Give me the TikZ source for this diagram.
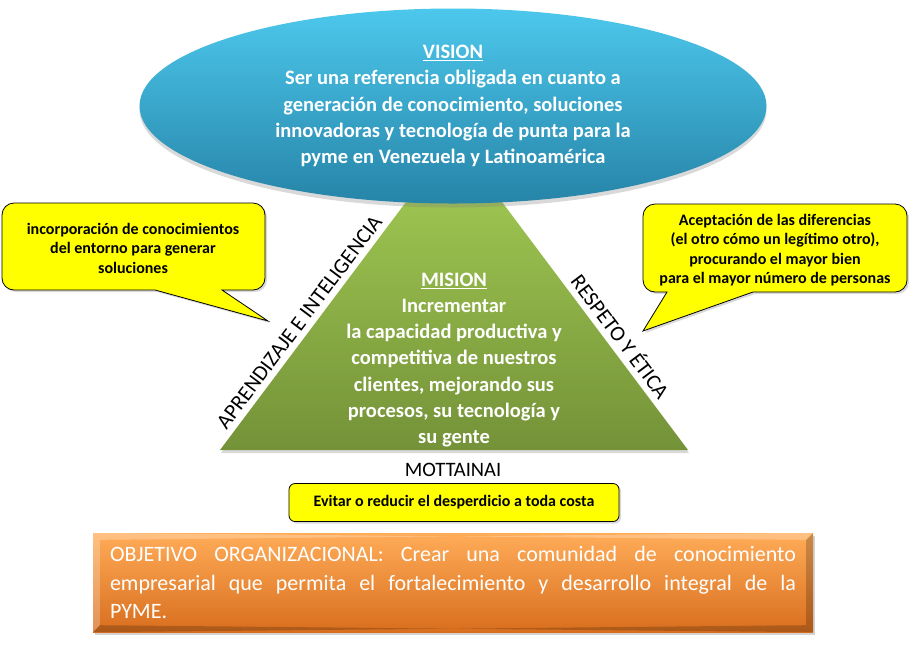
\documentclass[tikz,border=0pt]{standalone}
\usepackage{fontspec}
\setmainfont{Carlito}
\usetikzlibrary{positioning,shapes.geometric,shadows,calc}

\definecolor{visionTop}{RGB}{76,200,236}
\definecolor{visionMid}{RGB}{58,176,214}
\definecolor{visionBot}{RGB}{38,132,168}
\definecolor{misionTop}{RGB}{166,207,86}
\definecolor{misionBot}{RGB}{116,146,56}
\definecolor{objTop}{RGB}{255,172,88}
\definecolor{objMid}{RGB}{248,142,46}
\definecolor{objBot}{RGB}{216,110,30}
\definecolor{notaYellow}{RGB}{255,255,0}

\begin{document}
\begin{tikzpicture}[x=1pt, y=-1pt,
    bubble/.style={fill=notaYellow, draw=black, line width=0.8pt,
      drop shadow={opacity=0.3, shadow xshift=2pt, shadow yshift=-2pt}},
    notetext/.style={font=\bfseries\fontsize{16}{19.5}\selectfont, align=center},
    sidelabel/.style={font=\fontsize{21.5}{24}\selectfont, anchor=south, inner sep=6pt},
    whitetext/.style={text=white, font=\bfseries\fontsize{20.5}{26.2}\selectfont, align=center}]
  \useasboundingbox (0,0) rectangle (909,649);

  % piramide
  \coordinate (apex) at (454,138);
  \coordinate (baseL) at (220,450);
  \coordinate (baseR) at (688,450);
  \shade[top color=misionTop, bottom color=misionBot,
    drop shadow={opacity=0.3, shadow xshift=1pt, shadow yshift=-3pt}]
    (apex) -- (baseR) -- (baseL) -- cycle;
  \path (baseL) -- (apex) node[sidelabel, pos=0.384, rotate=53.1] (aprendizaje) {APRENDIZAJE E INTELIGENCIA};
  \path (baseR) -- (apex) node[sidelabel, pos=0.337, rotate=-53.1] (respeto) {RESPETO Y ÉTICA};
  \node[whitetext] (mision) at (454,360) {\underline{MISION}\\ Incrementar\\ la capacidad productiva y\\
    competitiva de nuestros\\ clientes, mejorando sus\\ procesos, su tecnología y\\ su gente};

  % vision
  \node[ellipse, minimum width=627, minimum height=195, inner sep=0pt,
    top color=visionTop, middle color=visionMid, bottom color=visionBot,
    drop shadow={opacity=0.3, shadow xshift=0pt, shadow yshift=-4pt}, whitetext]
    (vision) at (453,106) {\underline{VISION}\\ Ser una referencia obligada en cuanto a\\
    generación de conocimiento, soluciones\\ innovadoras y tecnología de punta para la\\
    pyme en Venezuela y Latinoamérica};

  % globos
  \draw[bubble] (155,290) [rounded corners=12] -- (2,290) -- (2,203) -- (265,203) -- (265,290)
    [sharp corners] -- (222,290) -- (268,321) -- cycle;
  \node[notetext] (entorno) at (133,248) {incorporación de conocimientos\\ del entorno para generar\\ soluciones};
  \draw[bubble] (753,292) [rounded corners=12] -- (907,292) -- (907,204) -- (643,204) -- (643,292)
    [sharp corners] -- (667,292) -- (643,331) -- cycle;
  \node[notetext] (diferencias) at (775,250) {Aceptación de las diferencias\\ (el otro cómo un legítimo otro),\\
    procurando el mayor bien\\ para el mayor número de personas};

  % mottainai
  \node[font=\fontsize{20.5}{24}\selectfont] (mottainai) at (453,470) {MOTTAINAI};
  \node[bubble, rounded corners=6, minimum width=330, minimum height=38, inner sep=0pt,
    font=\bfseries\fontsize{16}{19}\selectfont] (desperdicio) at (454,502.5)
    {Evitar o reducir el desperdicio a toda costa};

  % objetivo
  \node[top color=objTop, middle color=objMid, bottom color=objBot, minimum width=720, minimum height=99,
    inner sep=0pt, text width=686pt, align=justify, text=white, font=\fontsize{22}{28.5}\selectfont,
    drop shadow={opacity=0.35, shadow xshift=2pt, shadow yshift=-3pt}] (objetivo) at (453,582.5)
    {OBJETIVO ORGANIZACIONAL: Crear una comunidad de conocimiento\linebreak
    empresarial que permita el fortalecimiento y desarrollo integral de la\linebreak PYME.};
  \fill[white, opacity=0.25] (objetivo.north west) -- (objetivo.south west) -- ++(7,-7)
    -- ($(objetivo.north west)+(7,7)$) -- (objetivo.north east) -- ++(-7,7) -- cycle;
  \fill[black, opacity=0.2] (objetivo.south east) -- (objetivo.north east) -- ++(-7,7)
    -- ($(objetivo.south east)+(-7,-7)$) -- (objetivo.south west) -- ++(7,-7) -- cycle;
\end{tikzpicture}
\end{document}
